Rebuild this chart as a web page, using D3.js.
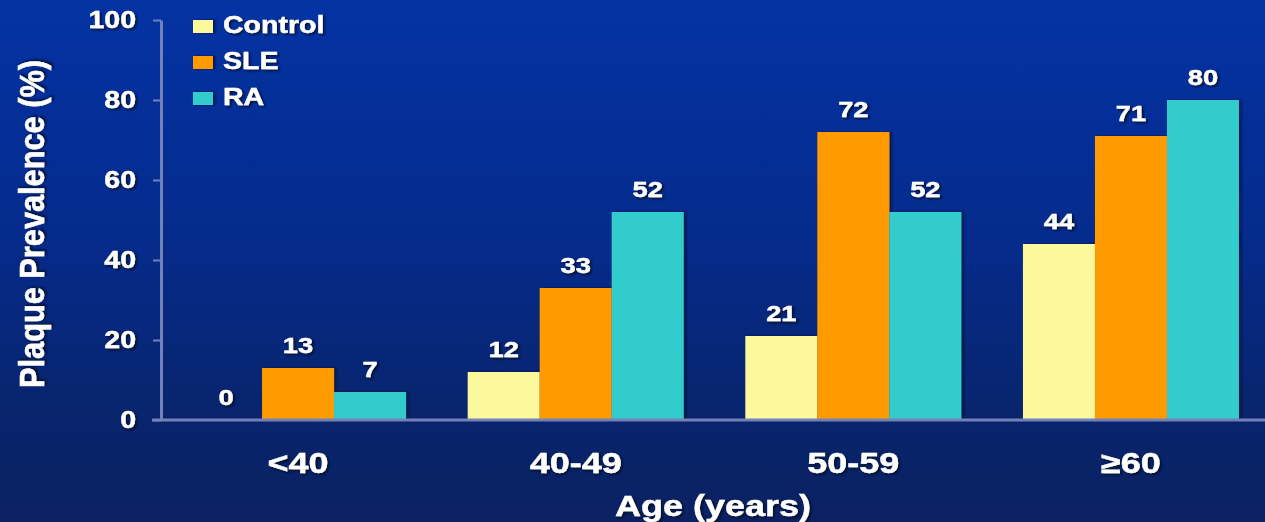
<!DOCTYPE html>
<html>
<head>
<meta charset="utf-8">
<script src="https://cdn.jsdelivr.net/npm/d3@7"></script>
<style>
  html, body { margin: 0; padding: 0; background: #052a88; }
  svg { display: block; }
  text { font-family: "Liberation Sans", Arial, sans-serif; font-weight: bold; fill: #ffffff;
         stroke: #ffffff; stroke-width: 0.4px; }
</style>
</head>
<body>
<svg id="chart" width="1265" height="522"></svg>
<script>
// Plaque prevalence by age group
const ageGroups = ["<40", "40-49", "50-59", "≥60"];
const seriesNames = ["Control", "SLE", "RA"];
const controlValues = [0, 12, 21, 44];
const sleValues = [13, 33, 72, 71];
const raValues = [7, 52, 52, 80];
const yTicks = [0, 20, 40, 60, 80, 100];
const seriesColors = ["#fbf99c", "#ff9a00", "#33cccc"];

const W = 1265, H = 522;
const S = 1.24; // horizontal glyph stretch of the slide lettering

const svg = d3.select("#chart");
const defs = svg.append("defs");

const grad = defs.append("linearGradient").attr("id", "bg").attr("x1", 0).attr("y1", 0).attr("x2", 0).attr("y2", 1);
grad.append("stop").attr("offset", "0%").attr("stop-color", "#0433a4");
grad.append("stop").attr("offset", "45%").attr("stop-color", "#052b8c");
grad.append("stop").attr("offset", "80%").attr("stop-color", "#08246c");
grad.append("stop").attr("offset", "100%").attr("stop-color", "#0b2262");

const shadow = defs.append("filter").attr("id", "tshadow").attr("x", "-20%").attr("y", "-20%").attr("width", "140%").attr("height", "140%");
shadow.append("feDropShadow").attr("dx", 1.5).attr("dy", 1.5).attr("stdDeviation", 0.8)
  .attr("flood-color", "#000820").attr("flood-opacity", 0.9);

const barShadow = defs.append("filter").attr("id", "bshadow").attr("x", "-10%").attr("y", "-10%").attr("width", "130%").attr("height", "120%");
barShadow.append("feDropShadow").attr("dx", 2.5).attr("dy", 0).attr("stdDeviation", 1.2)
  .attr("flood-color", "#000a30").attr("flood-opacity", 0.7);

svg.append("rect").attr("width", W).attr("height", H).attr("fill", "url(#bg)");

// widen glyphs horizontally around each label's anchor point
function stretch(sel) {
  sel.each(function () {
    const t = d3.select(this);
    const x = +t.attr("x") || 0, y = +t.attr("y") || 0;
    t.attr("transform", `translate(${x},${y}) scale(${S},1) translate(${-x},${-y})`);
  });
}

const seriesValues = [controlValues, sleValues, raValues];
const rows = ageGroups.map((g, i) => ({
  group: g,
  values: seriesNames.map((s, j) => ({ series: s, idx: j, value: seriesValues[j][i] }))
}));

const y = d3.scaleLinear().domain([0, 100]).range([420, 20]);
const x0 = d3.scaleBand().domain(ageGroups).range([162, 1267]).paddingInner(0.222).paddingOuter(0.101);
const x1 = d3.scaleBand().domain(seriesNames).range([0, x0.bandwidth()]).padding(0);

const axisColor = "#7282b8";

// bars
const groups = svg.append("g").selectAll("g").data(rows).join("g")
  .attr("transform", d => `translate(${x0(d.group)},0)`);

groups.selectAll("rect").data(d => d.values).join("rect")
  .attr("x", d => x1(d.series))
  .attr("y", d => y(d.value))
  .attr("width", x1.bandwidth())
  .attr("height", d => y(0) - y(d.value))
  .attr("fill", d => seriesColors[d.idx])
  .attr("filter", "url(#bshadow)");

// value labels
groups.selectAll("text").data(d => d.values).join("text")
  .attr("x", d => x1(d.series) + x1.bandwidth() / 2)
  .attr("y", d => y(d.value) - 15)
  .attr("text-anchor", "middle")
  .attr("font-size", 22)
  .attr("filter", "url(#tshadow)")
  .text(d => d.value)
  .call(stretch);

// y axis
const yAxis = svg.append("g").attr("transform", "translate(161,0)")
  .call(d3.axisLeft(y).tickValues(yTicks).tickSize(8).tickSizeOuter(0).tickPadding(17));
yAxis.attr("font-family", null).attr("font-size", null);
yAxis.select(".domain").attr("stroke", axisColor).attr("stroke-width", 3);
yAxis.selectAll(".tick line").attr("stroke", axisColor).attr("stroke-width", 2);
yAxis.selectAll(".tick text")
  .attr("font-size", 23).attr("fill", "#ffffff")
  .attr("filter", "url(#tshadow)")
  .call(stretch);

// x axis baseline
svg.append("line")
  .attr("x1", 152).attr("x2", W).attr("y1", y(0)).attr("y2", y(0))
  .attr("stroke", axisColor).attr("stroke-width", 3);

// category labels
const xAxis = svg.append("g").attr("transform", `translate(0,${y(0)})`)
  .call(d3.axisBottom(x0).tickSize(0));
xAxis.select(".domain").remove();
xAxis.attr("font-family", null).attr("font-size", null);
xAxis.selectAll(".tick text")
  .attr("y", 53).attr("dy", 0)
  .attr("font-size", 29).attr("fill", "#ffffff")
  .attr("filter", "url(#tshadow)")
  .call(stretch);

// axis titles
svg.append("text")
  .attr("x", 713).attr("y", 516)
  .attr("text-anchor", "middle")
  .attr("font-size", 29)
  .attr("filter", "url(#tshadow)")
  .text("Age (years)")
  .call(stretch);

svg.append("text")
  .attr("transform", `translate(44,224) scale(${S},1) rotate(-90)`)
  .attr("text-anchor", "middle")
  .attr("font-size", 28)
  .attr("textLength", 328)
  .attr("lengthAdjust", "spacingAndGlyphs")
  .attr("filter", "url(#tshadow)")
  .text("Plaque Prevalence (%)");

// legend
const legend = svg.append("g").selectAll("g").data(seriesNames).join("g")
  .attr("transform", (d, i) => `translate(193,${33 + i * 36})`);
legend.append("rect")
  .attr("x", 0).attr("y", -13).attr("width", 20).attr("height", 13)
  .attr("fill", (d, i) => seriesColors[i])
  .attr("filter", "url(#bshadow)");
legend.append("text")
  .attr("x", 30).attr("y", 0)
  .attr("font-size", 23)
  .attr("filter", "url(#tshadow)")
  .text(d => d)
  .call(stretch);
</script>
</body>
</html>
